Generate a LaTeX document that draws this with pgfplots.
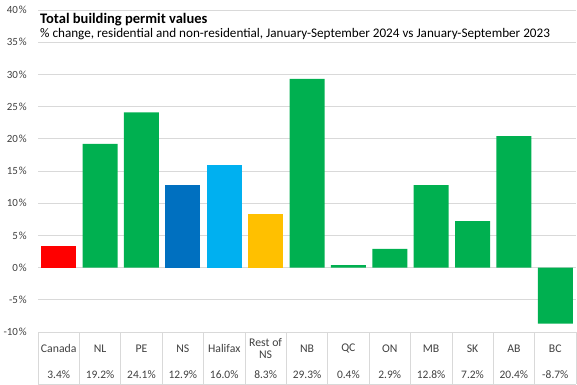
\documentclass[border=0pt]{standalone}
\usepackage{pgfplots}
\pgfplotsset{compat=1.18}
\usepackage{pgfplotstable}
\usepackage{fontspec}
\setmainfont{Carlito}
\definecolor{cred}{HTML}{FF0000}
\definecolor{cgreen}{HTML}{00B050}
\definecolor{cdblue}{HTML}{0070C0}
\definecolor{clblue}{HTML}{00B0F0}
\definecolor{cgold}{HTML}{FFC000}
\definecolor{gridc}{HTML}{D9D9D9}
\definecolor{tickc}{HTML}{404040}

\pgfplotstableread{
x v
0 3.4
1 19.2
2 24.1
3 12.9
4 16.0
5 8.3
6 29.3
7 0.4
8 2.9
9 12.8
10 7.2
11 20.4
12 -8.7
}\vals

\begin{document}
\begin{tikzpicture}
\begin{axis}[
  scale only axis, width=538bp, height=322bp,
  xmin=-0.5, xmax=12.5, ymin=-10, ymax=40,
  ytick={-10,-5,...,40},
  ymajorgrids, grid style={draw=gridc, line width=0.7pt},
  axis line style={draw=none},
  major tick length=0pt,
  xtick={0,...,12},
  xticklabels={Canada,NL,PE,NS,Halifax,{Rest of\\NS},NB,QC,ON,MB,SK,AB,BC},
  xticklabel style={anchor=center, yshift=-16.5bp, align=center, inner sep=0pt,
    font=\fontsize{11.8}{13}\selectfont, text=tickc},
  yticklabel style={anchor=east, inner sep=0pt, xshift=-11bp,
    font=\fontsize{11}{12}\selectfont, text=tickc},
  /pgf/number format/assume math mode=true,
  yticklabel={\pgfmathprintnumber{\tick}\hspace{1bp}\%},
  clip=false,
]
\addplot[ybar, bar width=35bp, bar shift=0pt, fill=cred, draw=none] coordinates {(0,3.4)};
\addplot[ybar, bar width=35bp, bar shift=0pt, fill=cgreen, draw=none] coordinates {(1,19.2) (2,24.1) (6,29.3) (7,0.4) (8,2.9) (9,12.8) (10,7.2) (11,20.4) (12,-8.7)};
\addplot[ybar, bar width=35bp, bar shift=0pt, fill=cdblue, draw=none] coordinates {(3,12.9)};
\addplot[ybar, bar width=35bp, bar shift=0pt, fill=clblue, draw=none] coordinates {(4,16.0)};
\addplot[ybar, bar width=35bp, bar shift=0pt, fill=cgold, draw=none] coordinates {(5,8.3)};
\addplot[draw=none, mark=none, point meta=explicit,
  nodes near coords={\pgfmathprintnumber[fixed,fixed zerofill,precision=1]{\pgfplotspointmeta}\%},
  nodes near coords style={anchor=center, yshift=-43bp, inner sep=0pt,
    font=\fontsize{11.5}{12}\selectfont, text=tickc}]
  table[x=x, y expr=-10, meta=v] {\vals};
\end{axis}
\foreach \k in {0,...,13} \draw[gridc, line width=0.7pt] ({\k*41.3846bp},0) -- ++(0,-52bp);
\draw[gridc, line width=0.7pt] (0,-52bp) -- (538bp,-52bp);
\node[anchor=base west, inner sep=0pt, font=\bfseries\fontsize{14.6}{16}\selectfont] at (2bp,308.5bp) {Total building permit values};
\node[anchor=base west, inner sep=0pt, font=\fontsize{13.2}{14}\selectfont] at (2bp,294bp) {\% change, residential and non-residential, January-September 2024 vs January-September 2023};
\pgfresetboundingbox
\path[use as bounding box] (-38bp,-53bp) rectangle (539bp,332bp);
\end{tikzpicture}
\end{document}
